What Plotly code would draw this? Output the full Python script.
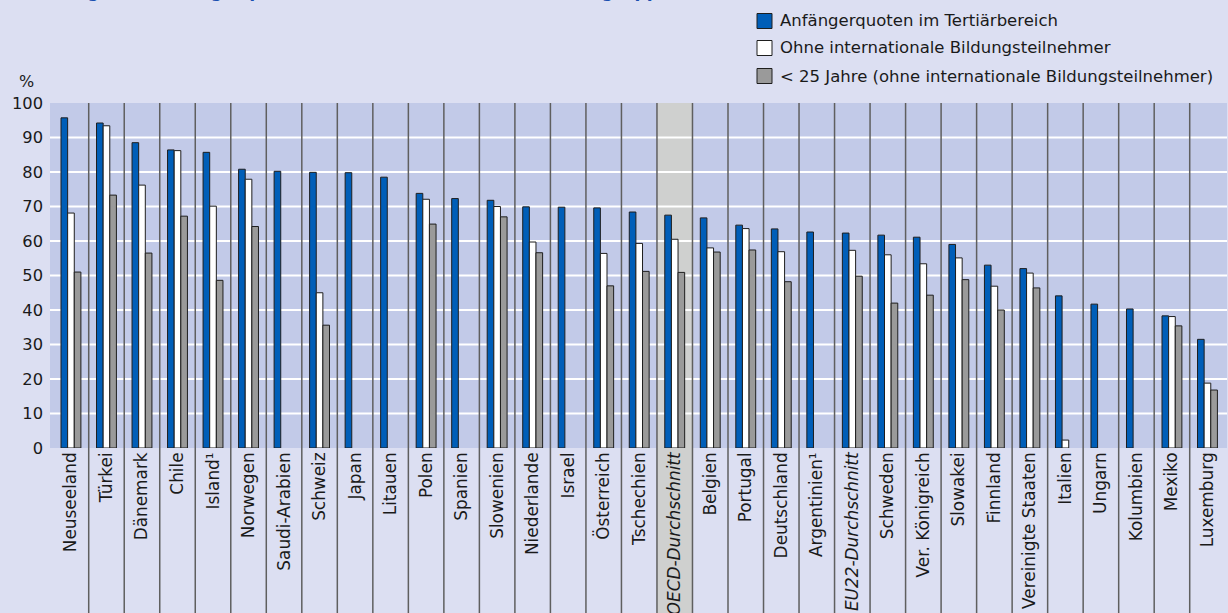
import plotly.graph_objects as go

# Länder / Durchschnitte in Reihenfolge der Anfängerquote
laender = [
    "Neuseeland", "Türkei", "Dänemark", "Chile", "Island¹", "Norwegen",
    "Saudi-Arabien", "Schweiz", "Japan", "Litauen", "Polen", "Spanien",
    "Slowenien", "Niederlande", "Israel", "Österreich", "Tschechien",
    "<i>OECD-Durchschnitt</i>", "Belgien", "Portugal", "Deutschland",
    "Argentinien¹", "<i>EU22-Durchschnitt</i>", "Schweden", "Ver. Königreich",
    "Slowakei", "Finnland", "Vereinigte Staaten", "Italien", "Ungarn",
    "Kolumbien", "Mexiko", "Luxemburg",
]

anfaengerquote = [
    95.7, 94.2, 88.5, 86.4, 85.7, 80.8, 80.2, 79.9, 79.8, 78.5, 73.8, 72.3,
    71.8, 69.9, 69.8, 69.6, 68.4, 67.5, 66.7, 64.6, 63.5, 62.6, 62.3, 61.7,
    61.1, 59.0, 53.0, 52.0, 44.1, 41.7, 40.3, 38.3, 31.5,
]

ohne_international = [
    68.1, 93.4, 76.2, 86.2, 70.1, 77.9, None, 45.0, None, None, 72.1, None,
    70.0, 59.7, None, 56.4, 59.3, 60.5, 58.0, 63.6, 56.9, None, 57.3, 56.0,
    53.4, 55.1, 46.9, 50.7, 2.3, None, None, 38.1, 18.8,
]

unter_25 = [
    51.0, 73.3, 56.5, 67.2, 48.6, 64.2, None, 35.6, None, None, 64.9, None,
    67.0, 56.6, None, 47.0, 51.2, 50.9, 56.8, 57.4, 48.2, None, 49.8, 42.0,
    44.3, 48.8, 40.0, 46.4, None, None, None, 35.4, 16.8,
]

y_ticks = list(range(0, 101, 10))
oecd_index = 17

serien = [
    ("Anfängerquoten im Tertiärbereich", anfaengerquote, "#005eb8"),
    ("Ohne internationale Bildungsteilnehmer", ohne_international, "#ffffff"),
    ("< 25 Jahre (ohne internationale Bildungsteilnehmer)", unter_25, "#9a9a9a"),
]

FONT = "DejaVu Sans"
W, H = 1228, 613
M_L, M_R, M_T, M_B = 50, 1, 103, 165
plot_w = W - M_L - M_R
plot_h = H - M_T - M_B


def px_x(px):
    return (px - M_L) / plot_w


def px_y(py):
    return (H - M_B - py) / plot_h


x_pos = list(range(len(laender)))

fig = go.Figure()
for name, werte, farbe in serien:
    fig.add_trace(go.Bar(
        x=x_pos, y=werte, name=name,
        marker=dict(color=farbe, line=dict(color="#1e1e1e", width=1)),
        showlegend=False,
    ))

shapes = []
# grauer Hintergrundstreifen für den OECD-Durchschnitt
shapes.append(dict(
    type="rect", xref="x", yref="paper",
    x0=oecd_index - 0.5, x1=oecd_index + 0.5, y0=-M_B / plot_h, y1=1,
    fillcolor="#cfd0cf", line=dict(width=0), layer="below",
))
# weiße Gitterlinien
for v in y_ticks[1:-1]:
    shapes.append(dict(
        type="line", xref="paper", yref="y", x0=0, x1=1, y0=v, y1=v,
        line=dict(color="#ffffff", width=2), layer="below",
    ))
# Trennlinien zwischen den Ländern (bis in den Beschriftungsbereich)
for i in range(len(laender) - 1):
    shapes.append(dict(
        type="line", xref="x", yref="paper", x0=i + 0.5, x1=i + 0.5,
        y0=-M_B / plot_h, y1=1,
        line=dict(color="#5f5f5f", width=1.5), layer="below",
    ))

# Legende
annotations = []
legend_rows = [21, 48, 76]
for (name, _, farbe), cy in zip(serien, legend_rows):
    shapes.append(dict(
        type="rect", xref="paper", yref="paper",
        x0=px_x(757), x1=px_x(772), y0=px_y(cy + 7.5), y1=px_y(cy - 7.5),
        fillcolor=farbe, line=dict(color="#1e1e1e", width=1),
    ))
    annotations.append(dict(
        xref="paper", yref="paper", x=px_x(778), y=px_y(cy),
        xanchor="left", yanchor="middle", text=name, showarrow=False,
        font=dict(family=FONT, size=16.5, color="#1a1a1a"),
    ))

annotations.append(dict(
    xref="paper", yref="paper", x=px_x(26), y=px_y(81),
    xanchor="center", yanchor="middle", text="%", showarrow=False,
    font=dict(family=FONT, size=16, color="#1a1a1a"),
))
# Überschrift (am oberen Rand angeschnitten)
annotations.append(dict(
    xref="paper", yref="paper", x=px_x(0), y=px_y(3.5),
    xanchor="left", yanchor="bottom",
    text="<b>Abbildung B4.1 Anfängerquoten im Tertiärbereich, nach Altersgruppe (2019)</b>",
    showarrow=False, font=dict(family=FONT, size=17, color="#1a4fb0"),
))

fig.update_layout(
    width=W, height=H,
    margin=dict(l=M_L, r=M_R, t=M_T, b=M_B, pad=0, autoexpand=False),
    paper_bgcolor="#dcdff2", plot_bgcolor="#c2cae8",
    barmode="group", bargap=0.44, bargroupgap=0,
    shapes=shapes, annotations=annotations,
    font=dict(family=FONT, color="#1a1a1a"),
    xaxis=dict(
        range=[-0.59, 32.55], tickmode="array", tickvals=x_pos,
        ticktext=laender, tickangle=-90, showgrid=False, zeroline=False,
        showline=False, ticks="", tickfont=dict(family=FONT, size=16.9),
        fixedrange=True, automargin=False,
    ),
    yaxis=dict(
        range=[0, 100], tickmode="array", tickvals=y_ticks,
        showgrid=False, zeroline=False, showline=False, ticks="",
        tickfont=dict(family=FONT, size=16.3), ticklabelstandoff=6,
        fixedrange=True, automargin=False,
    ),
)

fig.write_html("out.html")
